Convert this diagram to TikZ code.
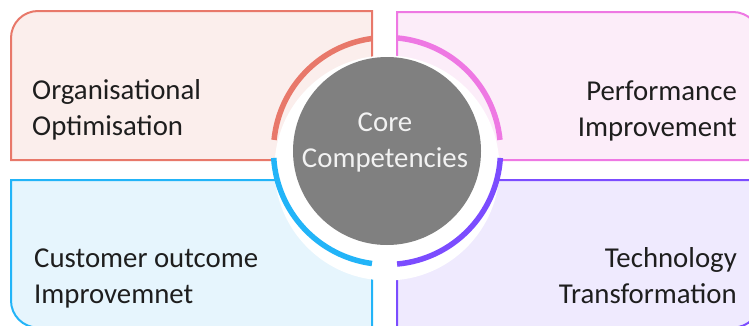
\documentclass[tikz,border=0pt]{standalone}
\usepackage{fontspec}
\setmainfont{Carlito}
\definecolor{orgS}{HTML}{E8786A}
\definecolor{orgF}{HTML}{FBEEEC}
\definecolor{perS}{HTML}{EE78E3}
\definecolor{perF}{HTML}{FCEDF9}
\definecolor{cusS}{HTML}{22B4F8}
\definecolor{cusF}{HTML}{E6F5FD}
\definecolor{tecS}{HTML}{7B4CFF}
\definecolor{tecF}{HTML}{EFEAFE}
\definecolor{coreG}{HTML}{808080}
\definecolor{txt}{HTML}{1E1E1E}
\begin{document}
\begin{tikzpicture}[x=1pt,y=1pt,
  box/.style={line width=2pt},
  ring/.style={line width=5.5pt},
  lbl/.style={font=\fontsize{28.8}{36}\selectfont, text=txt, inner sep=0pt}]
\useasboundingbox (0,0) rectangle (749,325);
\clip (0,0) rectangle (749,325);
% quadrant boxes
\draw[box, draw=orgS, fill=orgF] (372,165) -- (11,165) -- (11,287)
  arc[start angle=180, end angle=90, radius=27] -- (372,314) -- cycle;
\draw[box, draw=perS, fill=perF] (397,165) -- (397,313) -- (733,313)
  arc[start angle=90, end angle=0, radius=27] -- (760,165) -- cycle;
\draw[box, draw=cusS, fill=cusF] (372,145) -- (11,145) -- (11,24.4)
  arc[start angle=180, end angle=270, radius=27] -- (372,-2.6) -- cycle;
\draw[box, draw=tecS, fill=tecF] (397,145) -- (760,145) -- (760,24.4)
  arc[start angle=0, end angle=-90, radius=27] -- (397,-2.6) -- cycle;
% white halo
\coordinate (c) at (387,174);
\coordinate (w) at (387,157);
\fill[white] (w) circle[radius=112.5];
% coloured arcs
\draw[ring, orgS] ([shift={(97.6:113.5)}]c) arc[start angle=97.6, end angle=174.4, radius=113.5];
\draw[ring, perS] ([shift={(84.9:113.5)}]c) arc[start angle=84.9, end angle=5.6, radius=113.5];
\draw[ring, cusS] ([shift={(183.5:113.5)}]c) arc[start angle=183.5, end angle=262.4, radius=113.5];
\draw[ring, tecS] ([shift={(275.1:113.5)}]c) arc[start angle=275.1, end angle=356.5, radius=113.5];
% centre
\node[circle, fill=coreG, minimum size=188pt, inner sep=0pt] (core) at (c) {};
\node[lbl, text=white!95!black, align=center, anchor=base] (coretxt) at (385,158) {Core\\Competencies};
% labels
\node[lbl, align=left, anchor=base west] (org) at (32,190) {Organisational\\Optimisation};
\node[lbl, align=right, anchor=base east] (per) at (737,189) {Performance\\Improvement};
\node[lbl, align=left, anchor=base west] (cus) at (34,22) {Customer outcome\\Improvemnet};
\node[lbl, align=right, anchor=base east] (tec) at (737,22) {Technology\\Transformation};
\end{tikzpicture}
\end{document}
